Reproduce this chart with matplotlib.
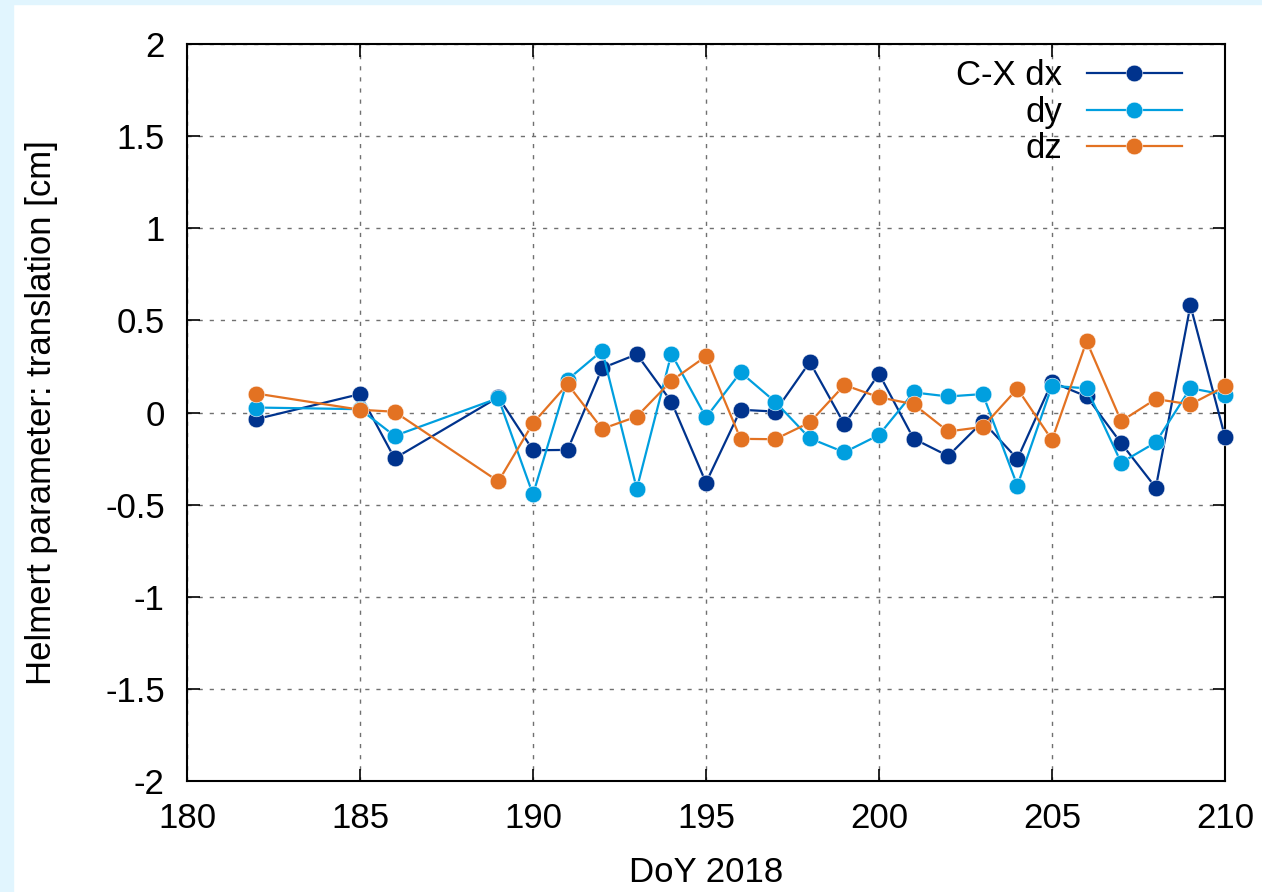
import matplotlib.pyplot as plt
from matplotlib.patches import Rectangle

# day of year and Helmert translations [cm]
days = [182, 185, 186, 189, 190, 191, 192, 193, 194, 195, 196, 197, 198, 199,
        200, 201, 202, 203, 204, 205, 206, 207, 208, 209, 210]
dx = [-0.036, 0.10, -0.249, 0.083, -0.205, -0.203, 0.241, 0.316, 0.058, -0.381,
      0.015, 0.005, 0.274, -0.064, 0.211, -0.142, -0.236, -0.049, -0.252, 0.165,
      0.087, -0.167, -0.408, 0.581, -0.132]
dy = [0.027, 0.018, -0.127, 0.078, -0.445, 0.178, 0.336, -0.414, 0.319, -0.027,
      0.218, 0.058, -0.140, -0.216, -0.122, 0.109, 0.087, 0.100, -0.397, 0.145,
      0.131, -0.272, -0.162, 0.132, 0.096]
dz = [0.103, 0.015, 0.004, -0.374, -0.058, 0.154, -0.089, -0.022, 0.172, 0.305,
      -0.143, -0.145, -0.054, 0.149, 0.083, 0.045, -0.103, -0.078, 0.129, -0.149,
      0.387, -0.047, 0.073, 0.044, 0.142]

labels = ['C-X dx', 'dy', 'dz']
colours = ['#00338d', '#009fdf', '#e37222']

plt.rcParams['font.family'] = ['Liberation Sans', 'DejaVu Sans']
plt.rcParams['font.size'] = 25

fig = plt.figure(figsize=(12.62, 8.92), dpi=100)
# light blue frame on the left and top edges
fig.patches.append(Rectangle((0, 0), 13 / 1262, 1, transform=fig.transFigure,
                             color='#e1f5fe', zorder=0))
fig.patches.append(Rectangle((0, 1 - 4 / 892), 1, 4 / 892, transform=fig.transFigure,
                             color='#e1f5fe', zorder=0))

ax = fig.add_axes([187 / 1262, 1 - 781 / 892, (1225 - 187) / 1262, (781 - 44) / 892])

for series, lab, col in zip([dx, dy, dz], labels, colours):
    ax.plot(days, series, color=col, lw=1.6, marker='o', markersize=12,
            markeredgecolor='white', markeredgewidth=0.4, label=lab,
            clip_on=False, zorder=3)

ax.set_xlim(180, 210)
ax.set_ylim(-2, 2)
ax.set_xticks(range(180, 211, 5))
ax.set_yticks([-2, -1.5, -1, -0.5, 0, 0.5, 1, 1.5, 2])
ax.set_yticklabels(['-2', '-1.5', '-1', '-0.5', '0', '0.5', '1', '1.5', '2'])
ax.grid(True, color='#707070', linestyle=(0, (3, 5)), linewidth=1)
ax.tick_params(direction='in', length=9, width=1.2, top=True, right=True)
ax.tick_params(axis='x', pad=15)
ax.tick_params(axis='y', pad=16)
for s in ax.spines.values():
    s.set_linewidth(1.5)

ax.set_xlabel('DoY 2018', labelpad=15)
ax.set_ylabel('Helmert parameter: translation [cm]', labelpad=34)

leg = ax.legend(loc='upper right', bbox_to_anchor=(995 / 1038, 0.979),
                frameon=False, markerfirst=False, handlelength=2.75,
                handletextpad=0.7, labelspacing=0.1, borderaxespad=0,
                borderpad=0, fontsize=25)
for t in leg.get_texts():
    t.set_ha('right')

fig.savefig('out.png', dpi=100)
